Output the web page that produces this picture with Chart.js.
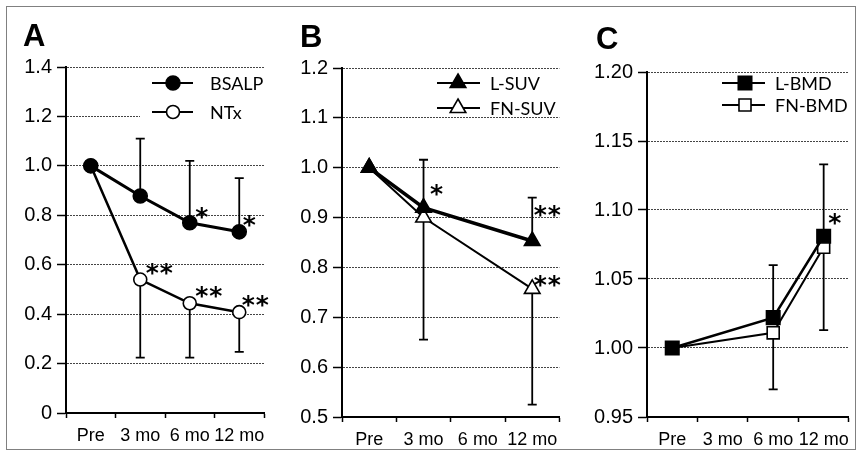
<!DOCTYPE html>
<html>
<head>
<meta charset="utf-8">
<script src="https://cdn.jsdelivr.net/npm/chart.js@4.4.1/dist/chart.umd.min.js"></script>
<style>
  body { margin: 0; background: #fff; }
  #wrap { position: relative; width: 860px; height: 457px; overflow: hidden; background: #fff; }
  #frame { position: absolute; left: 6px; top: 6px; width: 848px; height: 442px; border: 1px solid #808080; }
  canvas { position: absolute; top: 0; }
  .tag { position: absolute; font: bold 31px "Liberation Sans", Arial, sans-serif; line-height: 1; color: #000; }
</style>
</head>
<body>
<div id="wrap">
  <div id="frame"></div>
  <canvas id="chartA" width="285" height="457" style="left:0px"></canvas>
  <canvas id="chartB" width="285" height="457" style="left:285px"></canvas>
  <canvas id="chartC" width="290" height="457" style="left:570px"></canvas>
  <div class="tag" style="left:23px;top:20px">A</div>
  <div class="tag" style="left:300px;top:21px">B</div>
  <div class="tag" style="left:596px;top:23px">C</div>
</div>
<script>
const categories = ['Pre', '3 mo', '6 mo', '12 mo'];

// A: bone turnover markers
const bsalp = [1.0, 0.878, 0.77, 0.733];
const ntx = [1.0, 0.54, 0.444, 0.408];
const bsalpUpper = [null, 1.11, 1.02, 0.95];
const ntxLower = [null, 0.224, 0.224, 0.247];
const bsalpSig = ['', '', '*', '*'];
const ntxSig = ['', '**', '**', '**'];
const ticksA = [0, 0.2, 0.4, 0.6, 0.8, 1.0, 1.2, 1.4];

// B: SUV (no 6 mo measurement)
const lSuv = [1.0, 0.92, null, 0.853];
const fnSuv = [1.0, 0.90, null, 0.757];
const lSuvUpper = [null, 1.016, null, 0.94];
const fnSuvLower = [null, 0.655, null, 0.525];
const lSuvSig = ['', '*', '', '**'];
const fnSuvSig = ['', '', '', '**'];
const ticksB = [0.5, 0.6, 0.7, 0.8, 0.9, 1.0, 1.1, 1.2];

// C: BMD (no 3 mo measurement)
const lBmd = [1.0, null, 1.022, 1.081];
const fnBmd = [1.0, null, 1.011, 1.073];
const lBmdUpper = [null, null, 1.06, 1.133];
const fnBmdLower = [null, null, 0.97, 1.013];
const lBmdSig = ['', '', '', '*'];
const fnBmdSig = ['', '', '', ''];
const ticksC = [0.95, 1.00, 1.05, 1.10, 1.15, 1.20];

const tickFont = '"Liberation Sans", Arial, sans-serif';

function drawMarker(ctx, style, filled, x, y, r, bw) {
    ctx.save();
    ctx.fillStyle = filled ? '#000' : '#fff';
    ctx.strokeStyle = '#000';
    ctx.lineWidth = bw;
    ctx.beginPath();
    if (style === 'circle') {
        ctx.arc(x, y, r, 0, Math.PI * 2);
    } else if (style === 'triangle') {
        const a = Math.PI / 6;
        ctx.moveTo(x, y - r);
        ctx.lineTo(x + Math.cos(a) * r, y + Math.sin(a) * r);
        ctx.lineTo(x - Math.cos(a) * r, y + Math.sin(a) * r);
        ctx.closePath();
    } else {
        const s = r * Math.SQRT1_2;
        ctx.rect(x - s, y - s, 2 * s, 2 * s);
    }
    ctx.fill();
    ctx.stroke();
    ctx.restore();
}

// error bars, significance marks and the inside legend
const extras = {
    id: 'extras',
    beforeDatasetsDraw(chart, args, opts) {
        const ctx = chart.ctx, xs = chart.scales.x, ys = chart.scales.y;
        ctx.save();
        ctx.strokeStyle = '#000';
        ctx.lineWidth = 1.8;
        opts.errorBars.forEach(eb => {
            eb.ends.forEach((v, i) => {
                if (v == null) return;
                const px = xs.getPixelForValue(i);
                const p0 = ys.getPixelForValue(eb.from[i]);
                const p1 = ys.getPixelForValue(v);
                ctx.beginPath();
                ctx.moveTo(px, p0);
                ctx.lineTo(px, p1);
                ctx.moveTo(px - 4.5, p1);
                ctx.lineTo(px + 4.5, p1);
                ctx.stroke();
            });
        });
        ctx.restore();
    },
    afterDatasetsDraw(chart, args, opts) {
        const ctx = chart.ctx, xs = chart.scales.x, ys = chart.scales.y;
        ctx.save();
        // stars, drawn one by one so the pairs get a small gap
        ctx.fillStyle = '#000';
        ctx.font = 'bold 25px "DejaVu Sans", sans-serif';
        ctx.textAlign = 'center';
        ctx.textBaseline = 'alphabetic';
        opts.stars.forEach(st => {
            const ds = chart.data.datasets[st.ds];
            st.marks.forEach((m, i) => {
                if (!m) return;
                const off = st.offsets[i];
                const px = xs.getPixelForValue(i) + off[0];
                const py = ys.getPixelForValue(ds.data[i]) + off[1];
                const step = 14;
                for (let k = 0; k < m.length; k++) {
                    ctx.fillText('*', px + (k - (m.length - 1) / 2) * step, py + 14);
                }
            });
        });
        // legend
        const lg = opts.legend;
        if (lg.clear) {
            ctx.fillStyle = '#fff';
            ctx.fillRect(lg.clear[0], lg.clear[1], lg.clear[2], lg.clear[3]);
        }
        chart.data.datasets.forEach((ds, k) => {
            const y = lg.ys[k];
            ctx.strokeStyle = '#000';
            ctx.lineWidth = 2;
            ctx.beginPath();
            ctx.moveTo(lg.x1, y);
            ctx.lineTo(lg.x2, y);
            ctx.stroke();
            drawMarker(ctx, ds.pointStyle, ds.pointBackgroundColor === '#000', lg.xm, y, ds.pointRadius, ds.pointBorderWidth);
            ctx.fillStyle = '#000';
            ctx.font = '18px Lato, "Open Sans", sans-serif';
            ctx.textAlign = 'left';
            ctx.textBaseline = 'middle';
            ctx.fillText(ds.label, lg.xt, y + 1);
        });
        ctx.restore();
    }
};

function series(label, data, style, filled, radius, width) {
    return {
        label: label,
        data: data,
        borderColor: '#000',
        borderWidth: width,
        pointStyle: style,
        pointRadius: radius,
        pointHoverRadius: radius,
        pointBackgroundColor: filled ? '#000' : '#fff',
        pointBorderColor: '#000',
        pointBorderWidth: 1.6,
        tension: 0,
        spanGaps: true
    };
}

function makePanel(id, datasets, yTicks, decimals, yWidth, padding, extraOpts) {
    new Chart(document.getElementById(id).getContext('2d'), {
        type: 'line',
        data: { labels: categories, datasets: datasets },
        options: {
            responsive: false,
            animation: false,
            layout: { padding: padding },
            plugins: {
                legend: { display: false },
                tooltip: { enabled: false },
                extras: extraOpts
            },
            scales: {
                x: {
                    offset: true,
                    grid: { display: true, drawOnChartArea: false, offset: true, tickLength: 5, tickColor: '#000', tickWidth: 1.5 },
                    border: { display: true, color: '#000', width: 2 },
                    ticks: { color: '#000', font: { family: tickFont, size: 18 }, padding: 7, maxRotation: 0, autoSkip: false },
                    afterFit: s => { s.height = 30; }
                },
                y: {
                    min: yTicks[0],
                    max: yTicks[yTicks.length - 1],
                    afterBuildTicks: s => { s.ticks = yTicks.map(v => ({ value: v })); },
                    grid: { color: '#444', lineWidth: 1, tickLength: 9, tickColor: '#000', tickWidth: 1.5, tickBorderDash: [] },
                    border: { display: true, color: '#000', width: 2, dash: [2, 1] },
                    ticks: {
                        color: '#000',
                        font: { family: tickFont, size: 20 },
                        padding: 5,
                        callback: v => (v === 0 ? '0' : Number(v).toFixed(decimals))
                    },
                    afterFit: s => { s.width = yWidth; }
                }
            }
        },
        plugins: [extras]
    });
}

makePanel('chartA', [
    series('BSALP', bsalp, 'circle', true, 7, 3),
    series('NTx', ntx, 'circle', false, 6.5, 2.5)
], ticksA, 1, 56, { left: 10, right: 21, top: 67, bottom: 14 }, {
    errorBars: [{ from: bsalp, ends: bsalpUpper }, { from: ntx, ends: ntxLower }],
    stars: [
        { ds: 0, marks: bsalpSig, offsets: [null, null, [12, -12], [10, -13]] },
        { ds: 1, marks: ntxSig, offsets: [null, [19, -13], [19, -13], [16, -13]] }
    ],
    legend: { x1: 152, x2: 193, xm: 173, xt: 210, ys: [83, 112], clear: [140, 72, 124, 52] }
});

makePanel('chartB', [
    series('L-SUV', lSuv, 'triangle', true, 9, 3.5),
    series('FN-SUV', fnSuv, 'triangle', false, 9, 2)
], ticksB, 1, 50, { left: 7, right: 10, top: 68, bottom: 10 }, {
    errorBars: [{ from: lSuv, ends: lSuvUpper }, { from: fnSuv, ends: fnSuvLower }],
    stars: [
        { ds: 0, marks: lSuvSig, offsets: [null, [13, -20], null, [15, -32]] },
        { ds: 1, marks: fnSuvSig, offsets: [null, null, null, [15, -10]] }
    ],
    legend: { x1: 152, x2: 195, xm: 173, xt: 205, ys: [83, 108] }
});

makePanel('chartC', [
    series('L-BMD', lBmd, 'rect', true, 9.5, 2.5),
    series('FN-BMD', fnBmd, 'rect', false, 8.5, 2)
], ticksC, 2, 56, { left: 21, right: 10, top: 72, bottom: 10 }, {
    errorBars: [{ from: lBmd, ends: lBmdUpper }, { from: fnBmd, ends: fnBmdLower }],
    stars: [
        { ds: 0, marks: lBmdSig, offsets: [null, null, null, [11, -19]] },
        { ds: 1, marks: fnBmdSig, offsets: [null, null, null, null] }
    ],
    legend: { x1: 152, x2: 195, xm: 175, xt: 205, ys: [83, 105] }
});
</script>
</body>
</html>
